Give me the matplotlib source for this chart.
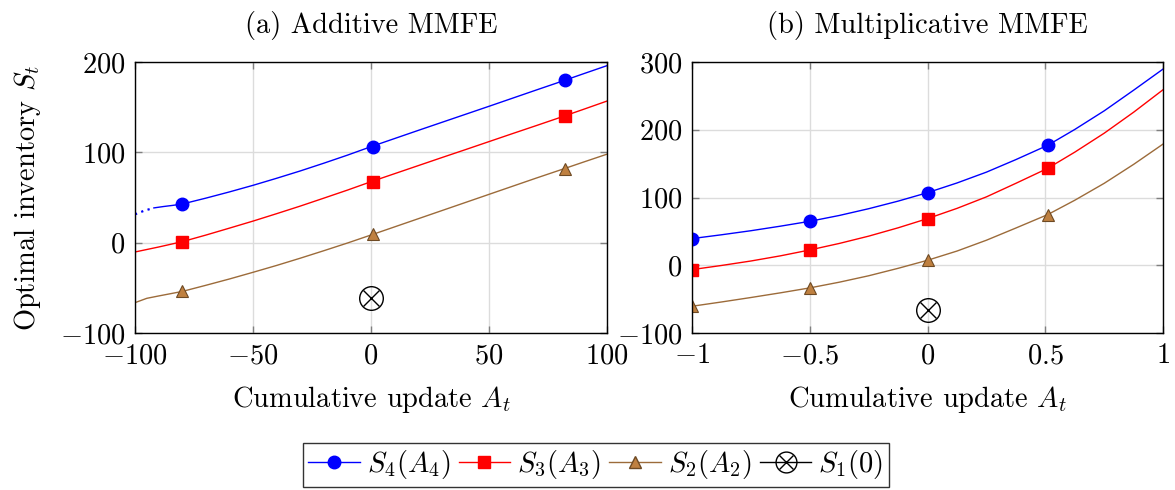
import matplotlib
matplotlib.use("Agg")
import matplotlib.pyplot as plt

plt.rcParams['font.family'] = 'serif'
plt.rcParams['font.serif'] = ['cmr10']
plt.rcParams['mathtext.fontset'] = 'cm'
plt.rcParams['axes.formatter.use_mathtext'] = True
plt.rcParams['axes.unicode_minus'] = True

# ---- (a) additive MMFE: curves ----
add_x4 = [-92, -88, -84, -80, -70, -60, -50, -40, -30, -20, -10, 0,
          10, 20, 30, 40, 50, 60, 70, 80, 90, 100]
add_s4 = [38.5, 40.0, 41.3, 42.8, 49.3, 56.2, 63.5, 71.3, 79.4, 88.0, 96.9, 106.3,
          115.3, 124.3, 133.2, 142.1, 151.0, 160.0, 169.0, 177.9, 187.0, 196.0]
add_s4_dot_x = [-100, -96, -92]
add_s4_dot = [31.4, 35.5, 38.5]
add_x3 = [-100, -90, -80, -70, -60, -50, -40, -30, -20, -10, 0,
          10, 20, 30, 40, 50, 60, 70, 80, 90, 100]
add_s3 = [-10.3, -4.8, 1.1, 8.4, 16.1, 23.9, 32.1, 40.5, 49.3, 58.2, 67.5,
          76.4, 85.3, 94.2, 103.0, 111.9, 120.8, 129.6, 138.5, 147.6, 156.8]
add_x2 = [-100, -95, -90, -85, -80, -70, -60, -50, -40, -30, -20, -10, 0,
          10, 20, 30, 40, 50, 60, 70, 80, 90, 100]
add_s2 = [-66.4, -61.6, -59.0, -56.5, -54.0, -47.2, -40.2, -32.8, -25.2, -17.2, -8.9, -0.4, 8.5,
          17.5, 26.5, 35.5, 44.5, 53.5, 62.5, 71.5, 80.3, 89.2, 98.0]
add_mark_x = [-80, 1, 82]
add_mark_s4 = [42.8, 106.3, 179.7]
add_mark_s3 = [1.1, 67.5, 140.2]
add_mark_s2 = [-53.5, 9.5, 82]
add_s1 = (0, -61)

# ---- (b) multiplicative MMFE ----
mul_x = [-1, -0.875, -0.75, -0.625, -0.5, -0.375, -0.25, -0.125, 0,
         0.125, 0.25, 0.375, 0.51, 0.625, 0.75, 0.875, 1]
mul_s4 = [39.4, 45.0, 51.0, 57.7, 64.9, 73.5, 83.5, 94.7, 107.2,
          121.5, 137.5, 156.0, 177.1, 200.5, 228.0, 258.5, 289.7]
mul_s3 = [-6.4, -0.3, 6.3, 13.9, 22.6, 32.2, 43.0, 55.3, 68.9,
          84.0, 101.0, 121.0, 143.1, 167.0, 195.0, 226.0, 259.2]
mul_s2 = [-60.5, -54.2, -47.6, -40.7, -33.4, -25.0, -15.5, -4.5, 7.4,
          21.0, 37.0, 55.0, 74.8, 96.0, 121.0, 149.0, 179.0]
mul_mark_x = [-1, -0.5, 0, 0.51]
mul_mark_s4 = [39.4, 64.9, 107.2, 177.1]
mul_mark_s3 = [-6.4, 22.6, 68.9, 143.1]
mul_mark_s2 = [-59.5, -33.4, 7.4, 74.8]
mul_s1 = (0, -66.4)

blue = '#0000ff'
red = '#ff0000'
brown_line = '#9c6b3a'
brown_face = '#bf8040'
brown_edge = '#6e4a24'

fig = plt.figure(figsize=(11.75, 4.9), dpi=100)
ax1 = fig.add_axes([0.1149, 0.3204, 0.4017, 0.553])
ax2 = fig.add_axes([0.589, 0.3204, 0.4009, 0.553])

fs = 20.5


def style(ax):
    ax.grid(True, color='#dcdcdc', linewidth=1.0)
    ax.set_axisbelow(True)
    ax.tick_params(direction='in', top=True, right=True, length=5, width=1,
                   color='#7f7f7f', labelsize=fs, pad=7)
    for sp in ax.spines.values():
        sp.set_linewidth(1.0)
        sp.set_color('black')
    ax.set_xlabel('Cumulative update $A_t$', fontsize=fs, labelpad=11)


def otimes(ax, x, y):
    ax.plot([x], [y], marker='o', mfc='none', mec='black', mew=1.0, ms=17, ls='none')
    ax.plot([x], [y], marker='x', color='black', mew=1.0, ms=12, ls='none')


def draw_markers(ax, xs, s4, s3, s2):
    ax.plot(xs, s4, 'o', color=blue, ms=9)
    ax.plot(xs, s3, 's', color=red, ms=9)
    ax.plot(xs, s2, '^', mfc=brown_face, mec=brown_edge, mew=0.8, ms=8)


# panel a
ax1.plot(add_s4_dot_x, add_s4_dot, color=blue, lw=1.6, ls=(0, (1, 2)))
ax1.plot(add_x4, add_s4, color=blue, lw=1)
ax1.plot(add_x3, add_s3, color=red, lw=1)
ax1.plot(add_x2, add_s2, color=brown_line, lw=1)
draw_markers(ax1, add_mark_x, add_mark_s4, add_mark_s3, add_mark_s2)
otimes(ax1, *add_s1)
ax1.set_xlim(-100, 100)
ax1.set_ylim(-100, 200)
ax1.set_xticks([-100, -50, 0, 50, 100])
ax1.set_yticks([-100, 0, 100, 200])
style(ax1)
ax1.set_ylabel('Optimal inventory $S_t$', fontsize=fs, labelpad=12)
ax1.set_title('(a) Additive MMFE', fontsize=fs, pad=21)

# panel b
ax2.plot(mul_x, mul_s4, color=blue, lw=1)
ax2.plot(mul_x, mul_s3, color=red, lw=1)
ax2.plot(mul_x, mul_s2, color=brown_line, lw=1)
draw_markers(ax2, mul_mark_x, mul_mark_s4, mul_mark_s3, mul_mark_s2)
otimes(ax2, *mul_s1)
ax2.set_xlim(-1, 1)
ax2.set_ylim(-100, 300)
ax2.set_xticks([-1, -0.5, 0, 0.5, 1])
ax2.set_xticklabels(['$-1$', '$-0.5$', '$0$', '$0.5$', '$1$'])
ax2.set_yticks([-100, 0, 100, 200, 300])
style(ax2)
ax2.set_title('(b) Multiplicative MMFE', fontsize=fs, pad=21)

h4 = plt.Line2D([], [], color=blue, lw=1, marker='o', ms=9)
h3 = plt.Line2D([], [], color=red, lw=1, marker='s', ms=9)
h2 = plt.Line2D([], [], color=brown_line, lw=1, marker='^', mfc=brown_face, mec=brown_edge, ms=8)
h1a = plt.Line2D([], [], color='black', lw=1, marker='o', mfc='none', mec='black', ms=15)
h1b = plt.Line2D([], [], color='black', lw=0, marker='x', mew=1.0, ms=10)
leg = fig.legend([h4, h3, h2, (h1a, h1b)], ['$S_4(A_4)$', '$S_3(A_3)$', '$S_2(A_2)$', '$S_1(0)$'],
                 loc='lower center', bbox_to_anchor=(0.507, 0.0), ncol=4, fontsize=fs,
                 frameon=True, fancybox=False, edgecolor='black', handlelength=1.8,
                 handletextpad=0.25, columnspacing=0.3, borderpad=0.2, borderaxespad=0.1)
leg.get_frame().set_linewidth(1.0)

fig.savefig('out.png', dpi=100)
